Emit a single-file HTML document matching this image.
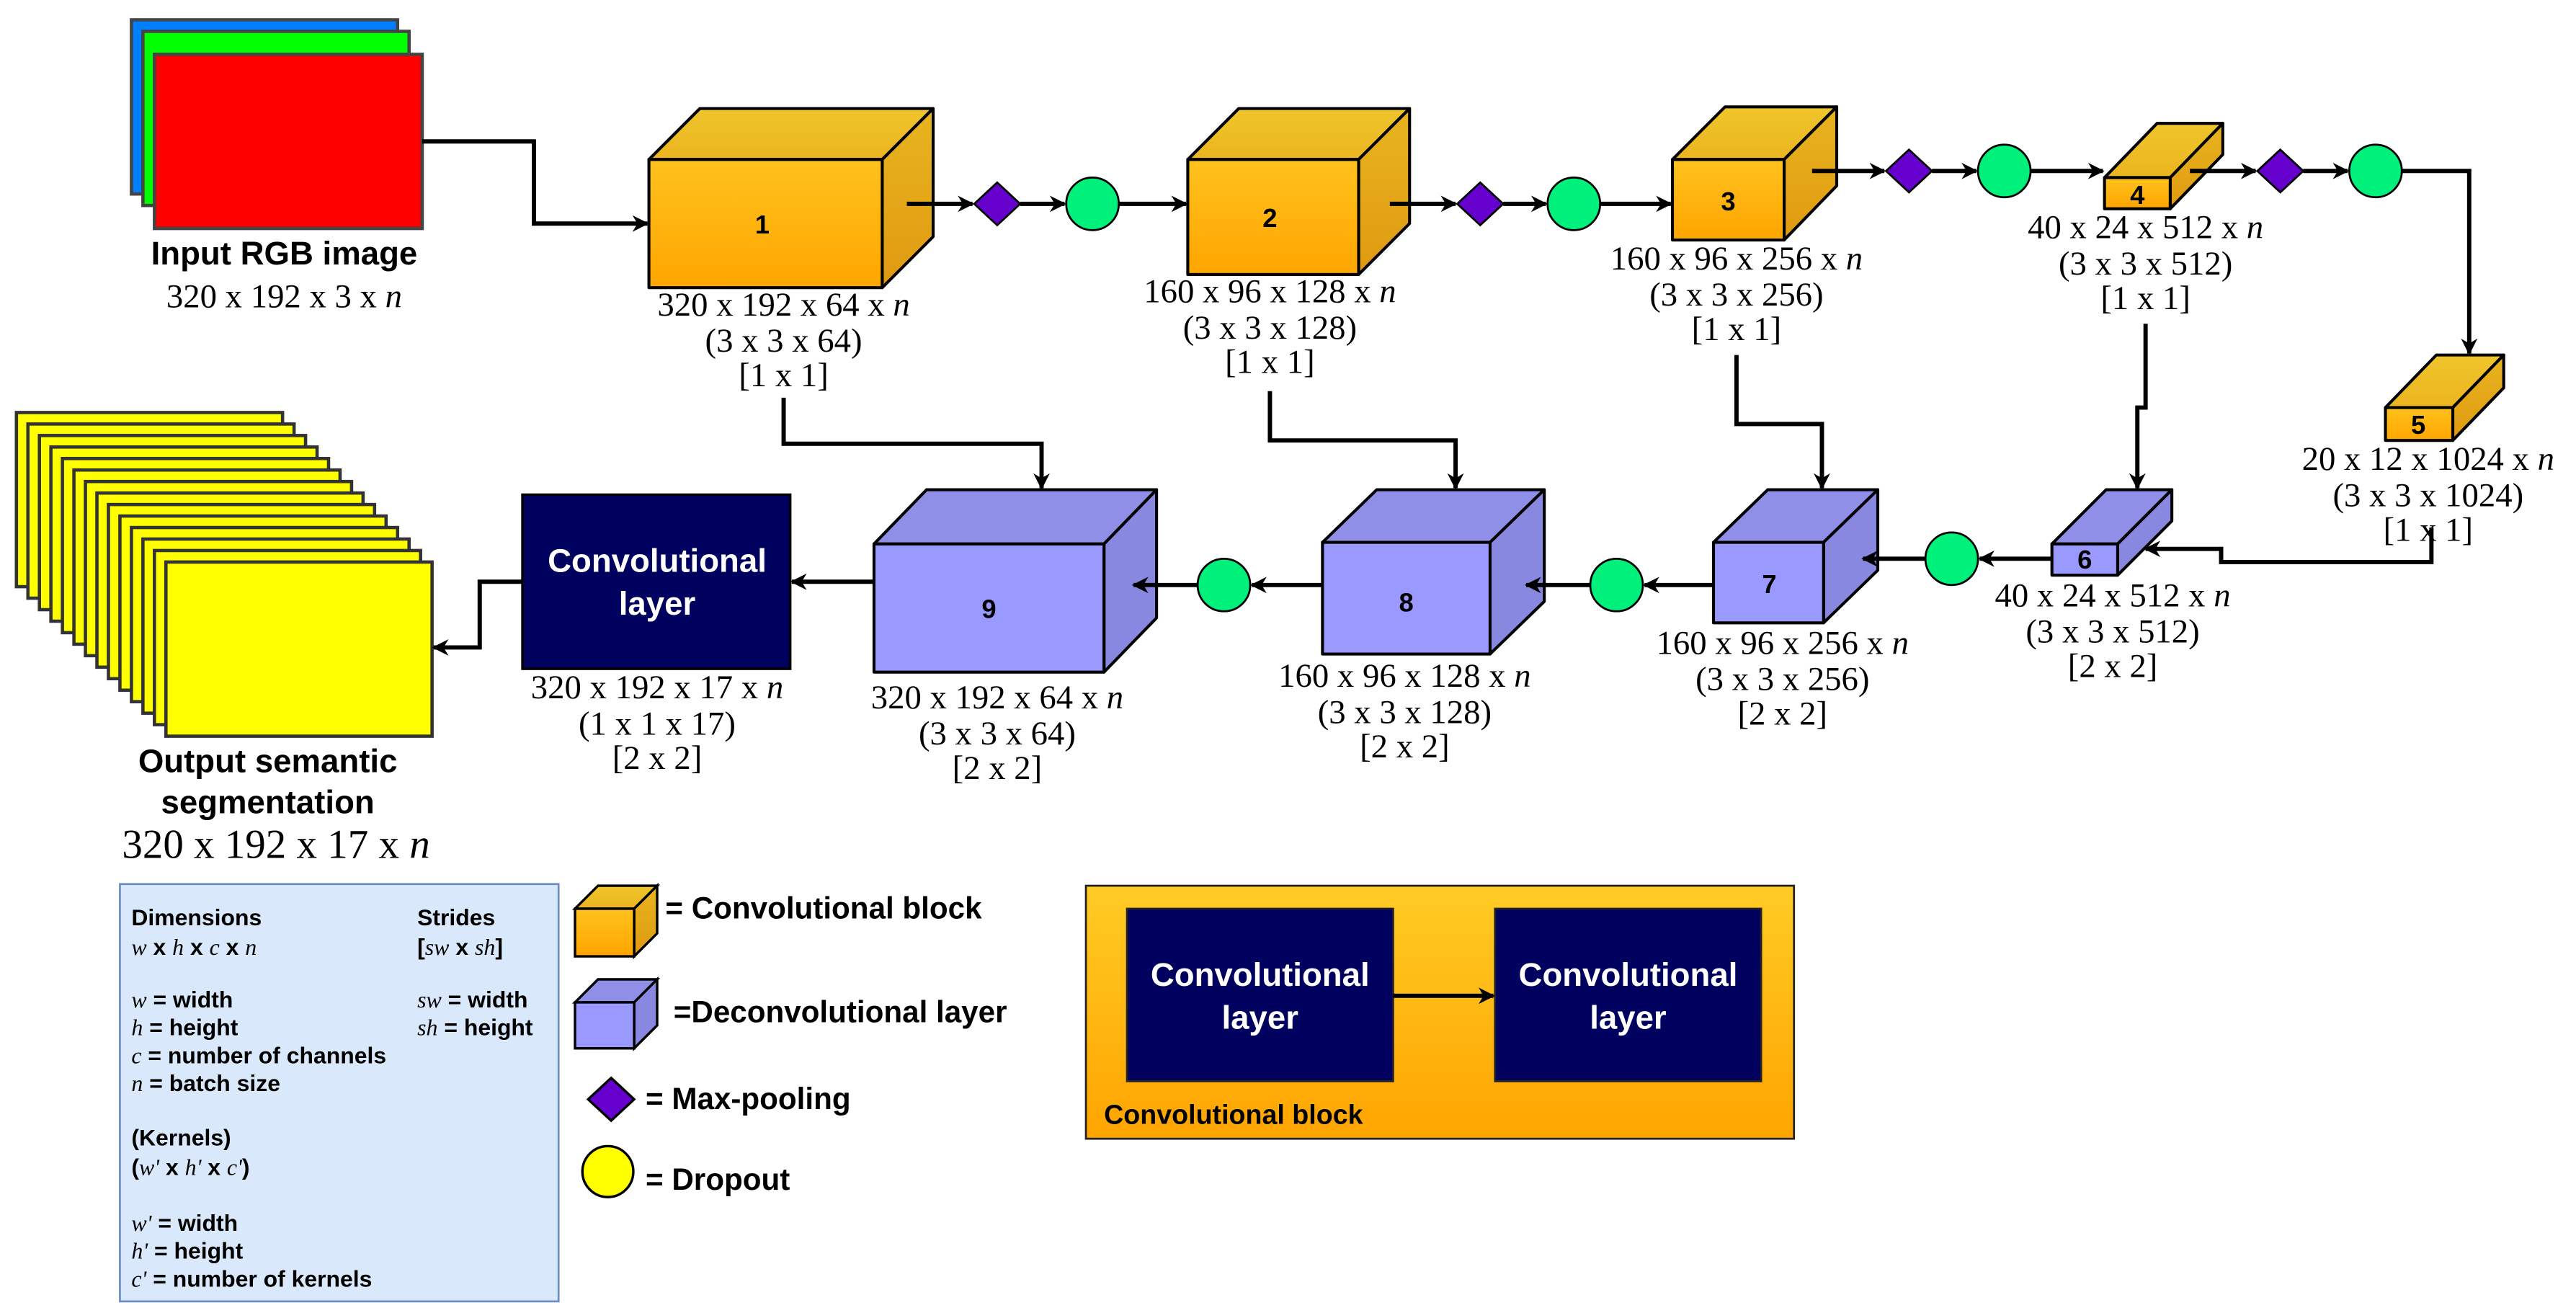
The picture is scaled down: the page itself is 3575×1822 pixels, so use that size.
<!DOCTYPE html>
<html><head><meta charset="utf-8"><style>html,body{margin:0;padding:0;background:#fff}svg{display:block}</style></head>
<body>
<svg xmlns="http://www.w3.org/2000/svg" width="3575" height="1822" viewBox="0 0 1568 799">
<defs>
<linearGradient id="of" x1="0" y1="0" x2="0" y2="1"><stop offset="0" stop-color="#ffc21e"/><stop offset="1" stop-color="#ffa500"/></linearGradient>
<linearGradient id="ot" x1="0" y1="0" x2="0" y2="1"><stop offset="0" stop-color="#f0c52c"/><stop offset="1" stop-color="#ebb520"/></linearGradient>
<linearGradient id="os" x1="0" y1="0" x2="0" y2="1"><stop offset="0" stop-color="#e8b420"/><stop offset="1" stop-color="#e09a10"/></linearGradient>
<linearGradient id="ob" x1="0" y1="0" x2="0" y2="1"><stop offset="0" stop-color="#ffcb25"/><stop offset="1" stop-color="#ffa400"/></linearGradient>
<marker id="ah" markerWidth="10" markerHeight="10" refX="9" refY="5" orient="auto" markerUnits="userSpaceOnUse"><path d="M0,0 L10,5 L0,10 L3,5 Z" fill="#000"/></marker>
</defs>
<style>
.l{fill:none;stroke:#000;stroke-width:2.6}
.t{font-family:"Liberation Serif",serif;font-size:20.5px;text-anchor:middle}
.b{font-family:"Liberation Sans",sans-serif;font-weight:bold;text-anchor:middle}
.g{font-family:"Liberation Sans",sans-serif;font-weight:bold;font-size:14px}
.ge{font-family:"Liberation Sans",sans-serif;font-weight:bold;font-size:18.5px}
.m{font-family:"Liberation Serif",serif;font-style:italic;font-weight:normal}
</style>

<rect x="80" y="12" width="162" height="106" fill="#007fff" stroke="#444" stroke-width="2"/>
<rect x="87" y="19" width="162" height="106" fill="#00ff00" stroke="#444" stroke-width="2"/>
<rect x="94" y="33" width="163" height="106" fill="#ff0000" stroke="#444" stroke-width="2"/>
<text class="b" x="173" y="161" font-size="20">Input RGB image</text>
<text class="t" x="173" y="187">320 x 192 x 3 x <tspan font-style="italic">n</tspan></text>

<g fill="#ffff00" stroke="#333" stroke-width="2">
<rect x="10" y="251" width="162" height="106"/><rect x="17" y="258" width="162" height="106"/><rect x="24" y="265" width="162" height="106"/><rect x="31" y="272" width="162" height="106"/><rect x="38" y="279" width="162" height="106"/><rect x="45" y="286" width="162" height="106"/><rect x="52" y="293" width="162" height="106"/><rect x="59" y="300" width="162" height="106"/><rect x="66" y="307" width="162" height="106"/><rect x="73" y="314" width="162" height="106"/><rect x="80" y="321" width="162" height="106"/><rect x="87" y="328" width="162" height="106"/><rect x="94" y="335" width="162" height="106"/><rect x="101" y="342" width="162" height="106"/>
</g>
<text class="b" x="163" y="470" font-size="20">Output semantic</text>
<text class="b" x="163" y="495" font-size="20">segmentation</text>
<text class="t" x="168" y="522" style="font-size:25px">320 x 192 x 17 x <tspan font-style="italic">n</tspan></text>

<g stroke="#000" stroke-width="1.8" stroke-linejoin="round">
<polygon points="395,97 426,66 568,66 537,97" fill="url(#ot)"/><polygon points="537,97 568,66 568,144 537,175" fill="url(#os)"/><rect x="395" y="97" width="142" height="78" fill="url(#of)"/>
<polygon points="723,97 754,66 858,66 827,97" fill="url(#ot)"/><polygon points="827,97 858,66 858,136 827,167" fill="url(#os)"/><rect x="723" y="97" width="104" height="70" fill="url(#of)"/>
<polygon points="1018,97 1050,65 1118,65 1086,97" fill="url(#ot)"/><polygon points="1086,97 1118,65 1118,113 1086,146" fill="url(#os)"/><rect x="1018" y="97" width="68" height="49" fill="url(#of)"/>
<polygon points="1281,108 1313,75 1353,75 1321,108" fill="url(#ot)"/><polygon points="1321,108 1353,75 1353,94 1321,127" fill="url(#os)"/><rect x="1281" y="108" width="40" height="19" fill="url(#of)"/>
<polygon points="1452,248 1483,216 1524,216 1493,248" fill="url(#ot)"/><polygon points="1493,248 1524,216 1524,236 1493,268" fill="url(#os)"/><rect x="1452" y="248" width="41" height="20" fill="url(#of)"/>
<polygon points="1249,331 1282,298 1322,298 1289,331" fill="#8f8fe8"/><polygon points="1289,331 1322,298 1322,317 1289,350" fill="#8888e0"/><rect x="1249" y="331" width="40" height="19" fill="#9999ff"/>
<polygon points="1043,330 1076,298 1143,298 1110,330" fill="#8f8fe8"/><polygon points="1110,330 1143,298 1143,347 1110,379" fill="#8888e0"/><rect x="1043" y="330" width="67" height="49" fill="#9999ff"/>
<polygon points="805,330 838,298 940,298 907,330" fill="#8f8fe8"/><polygon points="907,330 940,298 940,366 907,398" fill="#8888e0"/><rect x="805" y="330" width="102" height="68" fill="#9999ff"/>
<polygon points="532,331 564,298 704,298 672,331" fill="#8f8fe8"/><polygon points="672,331 704,298 704,376 672,409" fill="#8888e0"/><rect x="532" y="331" width="140" height="78" fill="#9999ff"/>
</g>
<g class="b" font-size="16">
<text x="464" y="142">1</text><text x="773" y="138">2</text><text x="1052" y="128">3</text><text x="1301" y="124">4</text><text x="1472" y="264">5</text><text x="1269" y="346">6</text><text x="1077" y="361">7</text><text x="856" y="372">8</text><text x="602" y="376">9</text>
</g>

<rect x="318" y="301" width="163" height="106" fill="#00005e" stroke="#000" stroke-width="1.5"/>
<text class="b" x="400" y="348" font-size="20" fill="#fff">Convolutional</text>
<text class="b" x="400" y="374" font-size="20" fill="#fff">layer</text>

<g fill="#6600cc" stroke="#000" stroke-width="1.2">
<polygon points="607,111 621,124 607,137 593,124"/><polygon points="901,111 915,124 901,137 887,124"/><polygon points="1162,91 1176,104 1162,117 1148,104"/><polygon points="1388,91 1402,104 1388,117 1374,104"/>
</g>
<g fill="#00f07c" stroke="#000" stroke-width="1.2">
<ellipse cx="665" cy="124" rx="16" ry="16"/><ellipse cx="958" cy="124" rx="16" ry="16"/><ellipse cx="1220" cy="104" rx="16" ry="16"/><ellipse cx="1446" cy="104" rx="16" ry="16"/>
<ellipse cx="1188" cy="340" rx="16" ry="16"/><ellipse cx="984" cy="356" rx="16" ry="16"/><ellipse cx="745" cy="356" rx="16" ry="16"/>
</g>

<g class="l" marker-end="url(#ah)">
<polyline points="257,86 325,86 325,136 394,136"/>
<line x1="552" y1="124" x2="592" y2="124"/><line x1="621" y1="124" x2="648" y2="124"/><line x1="681" y1="124" x2="722" y2="124"/>
<line x1="846" y1="124" x2="886" y2="124"/><line x1="915" y1="124" x2="941" y2="124"/><line x1="974" y1="124" x2="1017" y2="124"/>
<line x1="1103" y1="104" x2="1147" y2="104"/><line x1="1176" y1="104" x2="1203" y2="104"/><line x1="1236" y1="104" x2="1280" y2="104"/>
<line x1="1333" y1="104" x2="1373" y2="104"/><line x1="1402" y1="104" x2="1429" y2="104"/>
<polyline points="1462,104 1503,104 1503,215"/>
<polyline points="1480,321 1480,342 1352,342 1352,334 1306,334"/>
<polyline points="1306,197 1306,248 1301,248 1301,297"/>
<polyline points="1057,216 1057,258 1109,258 1109,297"/>
<polyline points="773,238 773,268 886,268 886,297"/>
<polyline points="477,242 477,270 634,270 634,297"/>
<line x1="1249" y1="340" x2="1205" y2="340"/><line x1="1172" y1="340" x2="1134" y2="340"/>
<line x1="1043" y1="356" x2="1001" y2="356"/><line x1="968" y1="356" x2="929" y2="356"/>
<line x1="805" y1="356" x2="762" y2="356"/><line x1="729" y1="356" x2="690" y2="356"/>
<line x1="532" y1="354" x2="482" y2="354"/>
<polyline points="318,354 292,354 292,394 264,394"/>
</g>

<g class="t">
<text x="477" y="192">320 x 192 x 64 x <tspan font-style="italic">n</tspan></text><text x="477" y="214">(3 x 3 x 64)</text><text x="477" y="235">[1 x 1]</text>
<text x="773" y="184">160 x 96 x 128 x <tspan font-style="italic">n</tspan></text><text x="773" y="206">(3 x 3 x 128)</text><text x="773" y="227">[1 x 1]</text>
<text x="1057" y="164">160 x 96 x 256 x <tspan font-style="italic">n</tspan></text><text x="1057" y="186">(3 x 3 x 256)</text><text x="1057" y="207">[1 x 1]</text>
<text x="1306" y="145">40 x 24 x 512 x <tspan font-style="italic">n</tspan></text><text x="1306" y="167">(3 x 3 x 512)</text><text x="1306" y="188">[1 x 1]</text>
<text x="1478" y="286">20 x 12 x 1024 x <tspan font-style="italic">n</tspan></text><text x="1478" y="308">(3 x 3 x 1024)</text><text x="1478" y="329">[1 x 1]</text>
<text x="1286" y="369">40 x 24 x 512 x <tspan font-style="italic">n</tspan></text><text x="1286" y="391">(3 x 3 x 512)</text><text x="1286" y="412">[2 x 2]</text>
<text x="1085" y="398">160 x 96 x 256 x <tspan font-style="italic">n</tspan></text><text x="1085" y="420">(3 x 3 x 256)</text><text x="1085" y="441">[2 x 2]</text>
<text x="855" y="418">160 x 96 x 128 x <tspan font-style="italic">n</tspan></text><text x="855" y="440">(3 x 3 x 128)</text><text x="855" y="461">[2 x 2]</text>
<text x="607" y="431">320 x 192 x 64 x <tspan font-style="italic">n</tspan></text><text x="607" y="453">(3 x 3 x 64)</text><text x="607" y="474">[2 x 2]</text>
<text x="400" y="425">320 x 192 x 17 x <tspan font-style="italic">n</tspan></text><text x="400" y="447">(1 x 1 x 17)</text><text x="400" y="468">[2 x 2]</text>
</g>

<rect x="73" y="538" width="267" height="254" fill="#dae8fc" stroke="#6c8ebf" stroke-width="1.2"/>
<g class="g">
<text x="80" y="563">Dimensions</text>
<text x="80" y="581"><tspan class="m">w</tspan> x <tspan class="m">h</tspan> x <tspan class="m">c</tspan> x <tspan class="m">n</tspan></text>
<text x="80" y="613"><tspan class="m">w</tspan> = width</text>
<text x="80" y="630"><tspan class="m">h</tspan> = height</text>
<text x="80" y="647"><tspan class="m">c</tspan> = number of channels</text>
<text x="80" y="664"><tspan class="m">n</tspan> = batch size</text>
<text x="80" y="697">(Kernels)</text>
<text x="80" y="715">(<tspan class="m">w'</tspan> x <tspan class="m">h'</tspan> x <tspan class="m">c'</tspan>)</text>
<text x="80" y="749"><tspan class="m">w'</tspan> = width</text>
<text x="80" y="766"><tspan class="m">h'</tspan> = height</text>
<text x="80" y="783"><tspan class="m">c'</tspan> = number of kernels</text>
<text x="254" y="563">Strides</text>
<text x="254" y="581">[<tspan class="m">sw</tspan> x <tspan class="m">sh</tspan>]</text>
<text x="254" y="613"><tspan class="m">sw</tspan> = width</text>
<text x="254" y="630"><tspan class="m">sh</tspan> = height</text>
</g>

<g stroke="#000" stroke-width="1.5">
<polygon points="350,553 364,539 400,539 386,553" fill="url(#ot)"/><polygon points="386,553 400,539 400,568 386,582" fill="url(#os)"/><rect x="350" y="553" width="36" height="29" fill="url(#of)"/>
<polygon points="350,610 364,596 400,596 386,610" fill="#8f8fe8"/><polygon points="386,610 400,596 400,624 386,638" fill="#8888e0"/><rect x="350" y="610" width="36" height="28" fill="#9999ff"/>
<polygon points="372,656 386,669 372,682 358,669" fill="#6600cc"/>
<ellipse cx="370" cy="713" rx="15.5" ry="15.5" fill="#ffff00"/>
</g>
<g class="ge">
<text x="405" y="559">= Convolutional block</text>
<text x="410" y="622">=Deconvolutional layer</text>
<text x="393" y="675">= Max-pooling</text>
<text x="393" y="724">= Dropout</text>
</g>

<rect x="661" y="539" width="431" height="154" fill="url(#ob)" stroke="#222" stroke-width="1.2"/>
<rect x="686" y="553" width="162" height="105" fill="#00005e" stroke="#222" stroke-width="1.2"/>
<rect x="910" y="553" width="162" height="105" fill="#00005e" stroke="#222" stroke-width="1.2"/>
<text class="b" x="767" y="600" font-size="20" fill="#fff">Convolutional</text>
<text class="b" x="767" y="626" font-size="20" fill="#fff">layer</text>
<text class="b" x="991" y="600" font-size="20" fill="#fff">Convolutional</text>
<text class="b" x="991" y="626" font-size="20" fill="#fff">layer</text>
<line class="l" x1="848" y1="606" x2="909" y2="606" marker-end="url(#ah)"/>
<text x="672" y="684" font-family="Liberation Sans, sans-serif" font-weight="bold" font-size="16.5">Convolutional block</text>
</svg>
</body></html>
